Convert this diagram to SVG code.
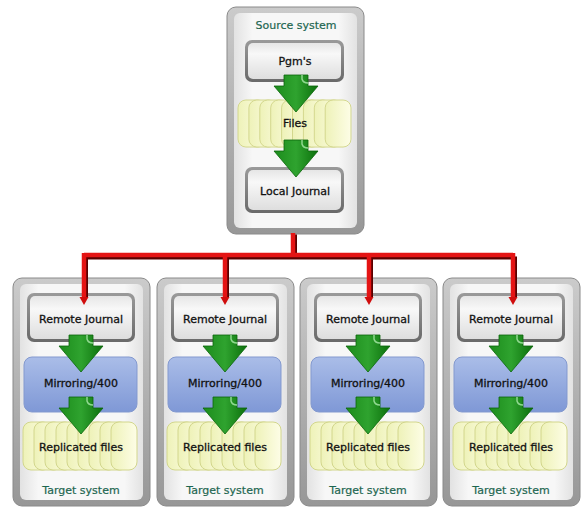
<svg xmlns="http://www.w3.org/2000/svg" width="585" height="517" viewBox="0 0 585 517">
<defs>
<linearGradient id="frame" x1="0" y1="0" x2="0" y2="1"><stop offset="0" stop-color="#cbcbcb"/><stop offset="1" stop-color="#979797"/></linearGradient>
<linearGradient id="panel" x1="0" y1="0" x2="1" y2="0"><stop offset="0" stop-color="#e2e2e2"/><stop offset="0.15" stop-color="#f7f7f7"/><stop offset="0.85" stop-color="#f7f7f7"/><stop offset="1" stop-color="#e2e2e2"/></linearGradient>
<linearGradient id="nodeEdge" x1="0" y1="0" x2="0" y2="1"><stop offset="0" stop-color="#9a9a9a"/><stop offset="1" stop-color="#6a6a6a"/></linearGradient>
<linearGradient id="nodeFill" x1="0" y1="0" x2="0" y2="1"><stop offset="0" stop-color="#e6e6e6"/><stop offset="0.3" stop-color="#f8f8f8"/><stop offset="1" stop-color="#dedede"/></linearGradient>
<linearGradient id="blue" x1="0" y1="0" x2="0" y2="1"><stop offset="0" stop-color="#aabde8"/><stop offset="1" stop-color="#7f98d6"/></linearGradient>
<linearGradient id="card" x1="0" y1="0" x2="1" y2="0"><stop offset="0" stop-color="#eef2b8"/><stop offset="1" stop-color="#fdfde6"/></linearGradient>
<linearGradient id="green" x1="0" y1="0" x2="1" y2="0"><stop offset="0" stop-color="#1c8c1c"/><stop offset="0.5" stop-color="#2fa32f"/><stop offset="1" stop-color="#0c700c"/></linearGradient>
<marker id="redHead" markerUnits="userSpaceOnUse" markerWidth="10" markerHeight="10" viewBox="0 -5 8 10" refX="0" refY="0" orient="auto">
<path d="M0,-4.5 L8,0 L0,4.5 Z" fill="#d00c0c"/>
</marker>
<g id="cards" fill="url(#card)" stroke="#d2d68c" stroke-width="1">
<rect x="0" y="0" width="28" height="48" rx="8"/>
<rect x="11" y="0" width="28" height="48" rx="8"/>
<rect x="22" y="0" width="28" height="48" rx="8"/>
<rect x="33" y="0" width="28" height="48" rx="8"/>
<rect x="44" y="0" width="28" height="48" rx="8"/>
<rect x="55" y="0" width="28" height="48" rx="8"/>
<rect x="66" y="0" width="28" height="48" rx="8"/>
<rect x="77" y="0" width="28" height="48" rx="8"/>
<rect x="88" y="0" width="26" height="48" rx="8"/>
</g>
<g id="garrow">
<path d="M-12,0 H12 V11 H22 L0,37 L-22,11 H-12 Z" fill="url(#green)" stroke="#0a650a" stroke-width="0.8"/>
<path d="M6,0 V4 Q7,8 12,8" fill="none" stroke="#8fd88f" stroke-width="1.5"/>
</g>
</defs>
<style>
.frame{fill:url(#frame);stroke:#8a8a8a;stroke-width:1}
.panel{fill:url(#panel)}
.nedge{fill:url(#nodeEdge)}
.nfill{fill:url(#nodeFill)}
.mir{fill:url(#blue);stroke:#8399cf;stroke-width:1}
.lbl{font-family:"DejaVu Sans",Verdana,sans-serif;font-size:11px;fill:#111;stroke:#111;stroke-width:0.3;text-anchor:middle}
.ttl{font-family:"DejaVu Sans",Verdana,sans-serif;font-size:11px;fill:#1d6650;stroke:#1d6650;stroke-width:0.2;text-anchor:middle}
.redS{fill:none;stroke:#5a0000;stroke-width:6}
.red{fill:none;stroke:#e41414;stroke-width:4.5}
</style>
<rect width="585" height="517" fill="#ffffff"/>

<g id="source">
<rect class="frame" x="227" y="7" width="137" height="227" rx="9"/>
<rect class="panel" x="234" y="13" width="123" height="215" rx="6"/>
<text class="ttl" x="296" y="29">Source system</text>
<g id="pgms">
<rect class="nedge" x="245" y="40" width="99" height="42" rx="7"/>
<rect class="nfill" x="248" y="43" width="93" height="36" rx="5"/>
<text class="lbl" x="295" y="65">Pgm's</text>
</g>
<g id="files">
<use href="#cards" transform="translate(238,100) scale(0.991,0.98)"/>
<text class="lbl" x="295" y="127">Files</text>
</g>
<g id="localjournal">
<rect class="nedge" x="245" y="167" width="99" height="46" rx="7"/>
<rect class="nfill" x="248" y="170" width="93" height="40" rx="5"/>
<text class="lbl" x="295" y="195">Local Journal</text>
</g>
</g>

<g id="target1" transform="translate(13,0)">
<rect class="frame" x="0" y="278" width="137" height="228" rx="9"/>
<rect class="panel" x="7" y="284" width="123" height="216" rx="6"/>
<rect class="nedge" x="14" y="293" width="108" height="49" rx="7"/>
<rect class="nfill" x="17" y="296" width="102" height="43" rx="5"/>
<text class="lbl" x="68" y="323">Remote Journal</text>
<rect class="mir" x="11" y="357" width="113" height="55" rx="8"/>
<text class="lbl" x="68" y="387">Mirroring/400</text>
<use href="#cards" transform="translate(10,422)"/>
<text class="lbl" x="68" y="451">Replicated files</text>
<text class="ttl" x="68" y="494">Target system</text>
</g>
<g id="target2" transform="translate(157,0)">
<rect class="frame" x="0" y="278" width="137" height="228" rx="9"/>
<rect class="panel" x="7" y="284" width="123" height="216" rx="6"/>
<rect class="nedge" x="14" y="293" width="108" height="49" rx="7"/>
<rect class="nfill" x="17" y="296" width="102" height="43" rx="5"/>
<text class="lbl" x="68" y="323">Remote Journal</text>
<rect class="mir" x="11" y="357" width="113" height="55" rx="8"/>
<text class="lbl" x="68" y="387">Mirroring/400</text>
<use href="#cards" transform="translate(10,422)"/>
<text class="lbl" x="68" y="451">Replicated files</text>
<text class="ttl" x="68" y="494">Target system</text>
</g>
<g id="target3" transform="translate(300,0)">
<rect class="frame" x="0" y="278" width="137" height="228" rx="9"/>
<rect class="panel" x="7" y="284" width="123" height="216" rx="6"/>
<rect class="nedge" x="14" y="293" width="108" height="49" rx="7"/>
<rect class="nfill" x="17" y="296" width="102" height="43" rx="5"/>
<text class="lbl" x="68" y="323">Remote Journal</text>
<rect class="mir" x="11" y="357" width="113" height="55" rx="8"/>
<text class="lbl" x="68" y="387">Mirroring/400</text>
<use href="#cards" transform="translate(10,422)"/>
<text class="lbl" x="68" y="451">Replicated files</text>
<text class="ttl" x="68" y="494">Target system</text>
</g>
<g id="target4" transform="translate(443,0)">
<rect class="frame" x="0" y="278" width="137" height="228" rx="9"/>
<rect class="panel" x="7" y="284" width="123" height="216" rx="6"/>
<rect class="nedge" x="14" y="293" width="108" height="49" rx="7"/>
<rect class="nfill" x="17" y="296" width="102" height="43" rx="5"/>
<text class="lbl" x="68" y="323">Remote Journal</text>
<rect class="mir" x="11" y="357" width="113" height="55" rx="8"/>
<text class="lbl" x="68" y="387">Mirroring/400</text>
<use href="#cards" transform="translate(10,422)"/>
<text class="lbl" x="68" y="451">Replicated files</text>
<text class="ttl" x="68" y="494">Target system</text>
</g>

<g id="connectors">
<g transform="translate(1,1.5)">
<path class="redS" d="M293,233 V255 M84,255 H513 M84,255 V296 M225,255 V296 M369,255 V296 M513,255 V296"/>
</g>
<path class="red" d="M293,233 V255 M84,255 H513"/>
<path class="red" d="M84,253 V297" marker-end="url(#redHead)"/>
<path class="red" d="M225,253 V297" marker-end="url(#redHead)"/>
<path class="red" d="M369,253 V297" marker-end="url(#redHead)"/>
<path class="red" d="M513,253 V297" marker-end="url(#redHead)"/>
<use href="#garrow" transform="translate(296,75)"/>
<use href="#garrow" transform="translate(296,140)"/>
<use href="#garrow" transform="translate(81,335)"/>
<use href="#garrow" transform="translate(81,397)"/>
<use href="#garrow" transform="translate(225,335)"/>
<use href="#garrow" transform="translate(225,397)"/>
<use href="#garrow" transform="translate(368,335)"/>
<use href="#garrow" transform="translate(368,397)"/>
<use href="#garrow" transform="translate(511,335)"/>
<use href="#garrow" transform="translate(511,397)"/>
</g>
</svg>
